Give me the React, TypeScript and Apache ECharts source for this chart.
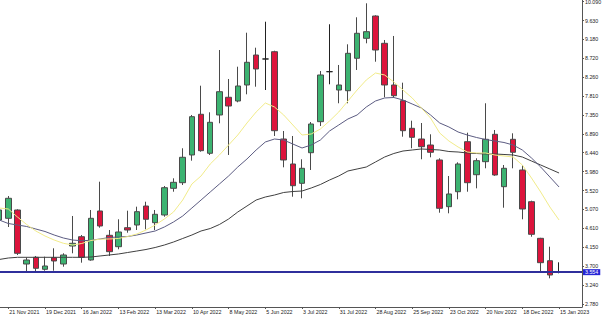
import React, { useEffect, useRef } from "react";
import * as echarts from "echarts";

// Weekly candles, index 0 = 14 Nov 2021 ... index 61 = 15 Jan 2023
const dateLabels = [
  "21 Nov 2021", "19 Dec 2021", "16 Jan 2022", "13 Feb 2022", "13 Mar 2022", "10 Apr 2022",
  "8 May 2022", "5 Jun 2022", "3 Jul 2022", "31 Jul 2022", "28 Aug 2022", "25 Sep 2022",
  "23 Oct 2022", "20 Nov 2022", "18 Dec 2022", "15 Jan 2023",
];
const dateLabelIndex = [1, 5, 9, 13, 17, 21, 25, 29, 33, 37, 41, 45, 49, 53, 57, 61];

const opens = [
  4.811, 4.852, 5.053, 3.747, 3.909, 3.619, 3.899, 3.747, 4.182, 4.407,
  3.844, 5.029, 4.441, 4.165, 4.625, 4.690, 5.149, 4.746, 4.932, 5.577,
  5.713, 6.383, 7.367, 6.424, 7.350, 7.778, 7.688, 8.075, 8.800, 8.704,
  8.880, 6.769, 6.165, 5.698, 6.438, 7.188, 8.397, 7.954, 7.937, 8.721,
  9.204, 9.743, 9.083, 8.075, 7.695, 7.028, 6.769, 6.624, 6.262, 5.133,
  5.495, 6.704, 5.906, 6.221, 6.883, 5.616, 6.762, 6.020, 5.253, 4.368,
  3.827, 3.554,
];
const closes = [
  5.053, 5.336, 4.006, 3.844, 3.643, 3.699, 3.820, 3.965, 4.248, 3.909,
  4.852, 4.666, 4.045, 4.521, 4.569, 5.012, 4.828, 4.949, 5.592, 5.722,
  6.327, 7.309, 6.487, 7.173, 7.913, 7.567, 8.051, 8.624, 8.462, 8.704,
  6.970, 6.262, 5.640, 6.061, 7.132, 8.317, 8.397, 8.075, 8.841, 9.325,
  9.364, 8.921, 8.075, 7.816, 6.970, 6.810, 6.583, 6.448, 5.094, 5.440,
  6.165, 5.713, 6.245, 6.762, 5.899, 6.061, 6.448, 5.077, 4.465, 3.779,
  3.481, 3.554,
];
const lows = [
  4.666, 4.642, 3.965, 3.561, 3.561, 3.585, 3.585, 3.682, 4.006, 3.779,
  3.827, 4.625, 3.941, 4.103, 4.504, 4.569, 4.586, 4.569, 4.891, 5.495,
  5.657, 6.245, 6.462, 6.383, 7.149, 6.383, 7.657, 7.850, 8.034, 7.954,
  6.842, 6.085, 5.374, 5.336, 6.020, 7.084, 8.092, 7.633, 7.633, 8.438,
  9.083, 8.638, 7.778, 7.768, 6.825, 6.545, 6.279, 6.327, 4.987, 4.973,
  5.311, 5.495, 5.577, 6.061, 5.880, 5.108, 6.061, 4.828, 4.407, 3.561,
  3.401, 3.522,
];
const highs = [
  5.125, 5.391, 5.070, 3.909, 3.941, 3.924, 4.127, 4.006, 4.908, 4.448,
  5.053, 5.737, 4.569, 4.828, 5.036, 5.133, 5.253, 5.053, 5.633, 5.819,
  6.545, 7.350, 8.058, 7.415, 8.921, 8.220, 8.517, 9.339, 8.977, 9.605,
  8.904, 6.963, 6.842, 6.279, 7.180, 8.413, 9.543, 8.559, 9.059, 9.712,
  10.050, 9.760, 9.163, 9.260, 8.131, 7.212, 7.156, 6.883, 6.303, 5.875,
  6.206, 6.922, 6.303, 7.633, 6.987, 6.141, 6.907, 6.141, 5.278, 4.380,
  4.165, 3.788,
];
const dojiIndex = [29, 36, 61];

const maFast = [
  5.101, 5.077, 4.883, 4.702, 4.545, 4.424, 4.327, 4.248, 4.206, 4.243,
  4.315, 4.347, 4.352, 4.364, 4.412, 4.472, 4.569, 4.690, 4.835, 5.004,
  5.294, 5.681, 5.875, 6.165, 6.383, 6.624, 6.866, 7.156, 7.422, 7.640,
  7.543, 7.350, 7.108, 6.866, 6.890, 7.011, 7.205, 7.422, 7.688, 7.954,
  8.196, 8.365, 8.317, 8.148, 7.954, 7.761, 7.519, 7.277, 6.914, 6.721,
  6.576, 6.455, 6.431, 6.431, 6.383, 6.358, 6.334, 6.141, 5.826, 5.488,
  5.125, 4.811,
];
const maMid = [
  4.811, 4.726, 4.690, 4.654, 4.593, 4.533, 4.448, 4.376, 4.327, 4.310,
  4.320, 4.352, 4.388, 4.400, 4.412, 4.448, 4.497, 4.545, 4.642, 4.763,
  4.908, 5.101, 5.294, 5.488, 5.681, 5.875, 6.092, 6.286, 6.503, 6.697,
  6.769, 6.745, 6.648, 6.552, 6.624, 6.745, 6.963, 7.108, 7.253, 7.350,
  7.543, 7.688, 7.761, 7.773, 7.712, 7.616, 7.519, 7.350, 7.156, 7.060,
  6.939, 6.866, 6.806, 6.757, 6.721, 6.685, 6.624, 6.503, 6.310, 6.092,
  5.851, 5.609,
];
const maSlow = [
  3.856, 3.892, 3.909, 3.909, 3.909, 3.909, 3.909, 3.909, 3.909, 3.909,
  3.916, 3.941, 3.965, 3.989, 4.025, 4.061, 4.098, 4.146, 4.206, 4.279,
  4.364, 4.448, 4.545, 4.605, 4.702, 4.835, 5.004, 5.149, 5.294, 5.367,
  5.415, 5.476, 5.500, 5.512, 5.585, 5.669, 5.778, 5.875, 5.996, 6.044,
  6.092, 6.213, 6.334, 6.419, 6.479, 6.503, 6.528, 6.516, 6.503, 6.467,
  6.455, 6.431, 6.419, 6.407, 6.407, 6.395, 6.383, 6.334, 6.237, 6.141,
  6.044, 5.947,
];

const priceTickLabels = [
  "2.780", "3.240", "3.700", "4.150", "4.610", "5.070", "5.520", "5.980", "6.440",
  "6.890", "7.350", "7.810", "8.260", "8.720", "9.180", "9.630", "10.090",
];
const bidPrice = 3.554;

const FONT = "'Liberation Sans', Arial, sans-serif";

export default function App() {
  const ref = useRef<HTMLDivElement>(null);

  useEffect(() => {
    const chart = echarts.init(ref.current as HTMLDivElement, null, { renderer: "svg" });

    const candleData = opens.map((o, i) => {
      const v = [i, o, closes[i], lows[i], highs[i]];
      if (dojiIndex.includes(i)) {
        return {
          value: v,
          itemStyle: { color: "#222", color0: "#222", borderColor: "#222", borderColor0: "#222" },
        };
      }
      return v;
    });
    const toLine = (arr: number[]) => arr.map((v, i) => [i, v]);

    chart.setOption({
      animation: false,
      backgroundColor: "#ffffff",
      textStyle: { fontFamily: FONT },
      grid: { left: 0, right: 20, top: 0, bottom: 8, outerBoundsMode: "none", containLabel: false },
      xAxis: {
        type: "value",
        min: 0.096,
        max: 63.5,
        splitLine: { show: false },
        axisLine: { show: true, lineStyle: { color: "#555", width: 1 } },
        axisTick: {
          show: true,
          length: 2,
          customValues: dateLabelIndex,
          lineStyle: { color: "#555" },
        },
        axisLabel: {
          show: true,
          customValues: dateLabelIndex,
          formatter: (val: number) => {
            const k = dateLabelIndex.indexOf(Math.round(val));
            return k >= 0 ? dateLabels[k] : "";
          },
          align: "left",
          margin: 2,
          padding: [0, 0, 0, 1],
          fontSize: 5.3,
          fontFamily: FONT,
          color: "#222",
        },
      },
      yAxis: {
        type: "value",
        position: "right",
        min: 2.7075,
        max: 10.13,
        splitLine: { show: false },
        axisLine: { show: true, lineStyle: { color: "#555", width: 1 } },
        axisTick: {
          show: true,
          length: 2,
          customValues: priceTickLabels.map(Number),
          lineStyle: { color: "#555" },
        },
        axisLabel: {
          show: true,
          customValues: priceTickLabels.map(Number),
          formatter: (val: number) => val.toFixed(3),
          margin: 3,
          fontSize: 5.3,
          fontFamily: FONT,
          color: "#222",
        },
      },
      series: [
        {
          type: "candlestick",
          data: candleData,
          barWidth: 6,
          itemStyle: {
            color: "#3cb371",
            color0: "#dc143c",
            borderColor: "#4a4a4a",
            borderColor0: "#4a4a4a",
            borderWidth: 1,
          },
        },
        {
          type: "line",
          data: toLine(maSlow),
          symbol: "none",
          lineStyle: { color: "#404040", width: 1 },
        },
        {
          type: "line",
          data: toLine(maMid),
          symbol: "none",
          lineStyle: { color: "#5c5c82", width: 1 },
        },
        {
          type: "line",
          data: toLine(maFast),
          symbol: "none",
          lineStyle: { color: "#f2ec8a", width: 1 },
        },
        {
          type: "line",
          data: [],
          clip: false,
          markLine: {
            silent: true,
            symbol: ["none", "none"],
            data: [{ yAxis: bidPrice }],
            lineStyle: { color: "#2f2f9c", width: 2, type: "solid" },
            label: {
              show: true,
              position: "end",
              distance: 1,
              formatter: bidPrice.toFixed(3),
              color: "#ffffff",
              backgroundColor: "#2626d6",
              padding: [1, 2, 0, 2],
              fontSize: 5.3,
              fontFamily: FONT,
            },
          },
        },
      ],
    });

    return () => chart.dispose();
  }, []);

  return (
    <div
      ref={ref}
      style={{ position: "fixed", left: 0, top: 0, width: 602, height: 315, background: "#fff" }}
    />
  );
}
